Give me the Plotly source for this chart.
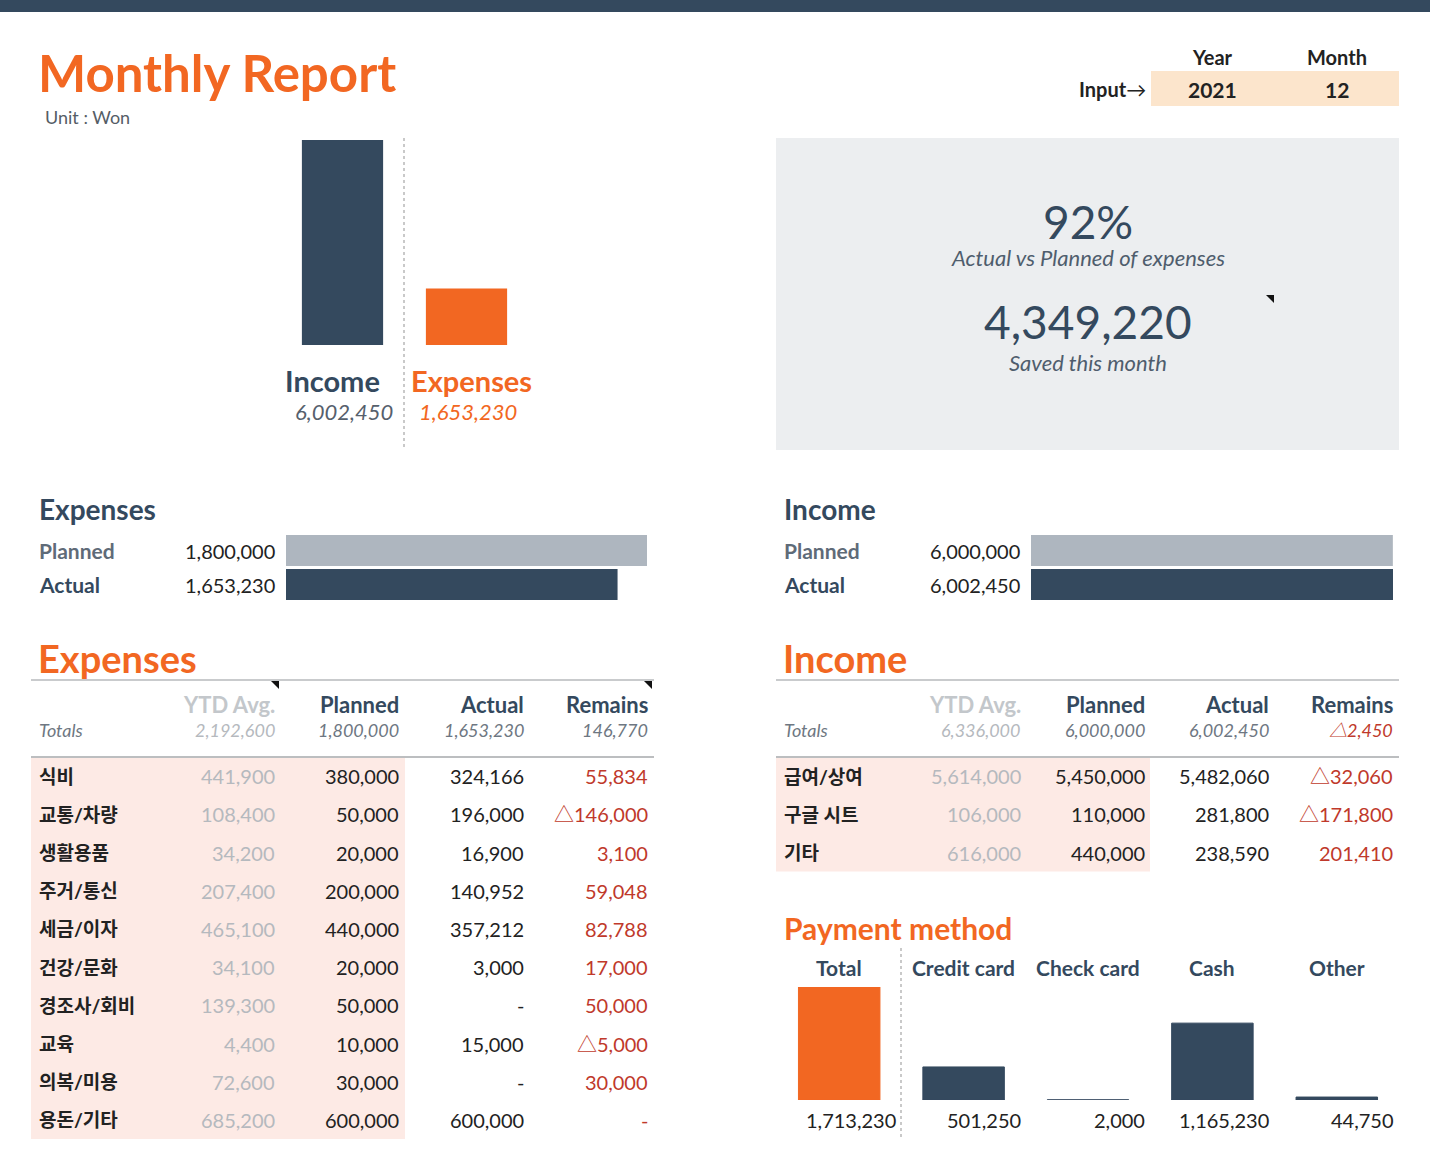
import plotly.graph_objects as go

# ---------------- data ----------------
exp_categories = ["식비", "교통/차량", "생활용품", "주거/통신", "세금/이자",
                  "건강/문화", "경조사/회비", "교육", "의복/미용", "용돈/기타"]
exp_ytd = [441900, 108400, 34200, 207400, 465100, 34100, 139300, 4400, 72600, 685200]
exp_planned = [380000, 50000, 20000, 200000, 440000, 20000, 50000, 10000, 30000, 600000]
exp_actual = [324166, 196000, 16900, 140952, 357212, 3000, 0, 15000, 0, 600000]

inc_categories = ["급여/상여", "구글 시트", "기타"]
inc_ytd = [5614000, 106000, 616000]
inc_planned = [5450000, 110000, 440000]
inc_actual = [5482060, 281800, 238590]

pay_methods = ["Credit card", "Check card", "Cash", "Other"]
pay_values = [501250, 2000, 1165230, 44750]

table_columns = ["YTD Avg.", "Planned", "Actual", "Remains"]
report_year = 2021
report_month = 12

# ---------------- derived ----------------
exp_remains = [p - a for p, a in zip(exp_planned, exp_actual)]
inc_remains = [p - a for p, a in zip(inc_planned, inc_actual)]
exp_tot = [sum(exp_ytd), sum(exp_planned), sum(exp_actual), sum(exp_remains)]
inc_tot = [sum(inc_ytd), sum(inc_planned), sum(inc_actual), sum(inc_remains)]
pay_total = sum(pay_values)

# ---------------- style ----------------
W, H = 1430, 1162
NAVY = "#34495e"
ORANGE = "#f26722"
BARGRAY = "#aeb6bf"
PINK = "#fdeae5"
RED = "#c0392b"
LIGHT = "#b5b9be"
HDRLIGHT = "#c3c7cb"
BOXGRAY = "#eceef0"
PEACH = "#fce5cc"
TXT = "#222222"
SUB = "#6e7782"
FONT = "Lato, 'Noto Sans CJK KR', sans-serif"


def PX(x):
    return x / W


def PY(y):
    return 1 - y / H


def fmt(v):
    return "-" if v == 0 else f"{v:,}"


def fmt_rem(v):
    if v == 0:
        return "-"
    return f"{v:,}" if v > 0 else "△" + f"{-v:,}"


annotations = []
shapes = []


def text(t, x, y, size, color, xanchor="left", xref="paper", yref="paper",
         xshift=0, bold=False, italic=False):
    if bold:
        t = f"<b>{t}</b>"
    if italic:
        t = f"<i>{t}</i>"
    annotations.append(dict(text=t, x=x, y=y, xref=xref, yref=yref, xanchor=xanchor,
                            yanchor="middle", xshift=xshift, showarrow=False, borderpad=0,
                            font=dict(family=FONT, size=size, color=color)))


def rect(x0, y0, x1, y1, color):
    shapes.append(dict(type="rect", xref="paper", yref="paper", x0=PX(x0), x1=PX(x1),
                       y0=PY(y1), y1=PY(y0), fillcolor=color, line=dict(width=0),
                       layer="below"))


def hline(x0, x1, y, color, width):
    shapes.append(dict(type="line", xref="paper", yref="paper", x0=PX(x0), x1=PX(x1),
                       y0=PY(y), y1=PY(y), line=dict(color=color, width=width)))


def vdot(x, y0, y1):
    shapes.append(dict(type="line", xref="paper", yref="paper", x0=PX(x), x1=PX(x),
                       y0=PY(y0), y1=PY(y1), line=dict(color="#b8b8b8", width=1.5, dash="dot")))


def tri(x0, y0, s=8):
    path = (f"M {PX(x0)} {PY(y0)} L {PX(x0 + s)} {PY(y0)} "
            f"L {PX(x0 + s)} {PY(y0 + s)} Z")
    shapes.append(dict(type="path", xref="paper", yref="paper", path=path,
                       fillcolor="#111111", line=dict(width=0)))


fig = go.Figure()
layout = {}

# ---------- header ----------
rect(0, 0, W, 12, NAVY)
text("Monthly Report", PX(37), PY(73), 51, ORANGE, bold=True)
text("Unit : Won", PX(44), PY(117), 18, "#555d66")
rect(1151, 71, 1399, 106, PEACH)
text("Year", PX(1212), PY(57), 20, TXT, xanchor="center", bold=True)
text("Month", PX(1337), PY(57), 20, TXT, xanchor="center", bold=True)
text(str(report_year), PX(1212), PY(89), 21, TXT, xanchor="center", bold=True)
text(str(report_month), PX(1337), PY(89), 21, TXT, xanchor="center", bold=True)
text("<b>Input</b>→", PX(1147), PY(89), 20, TXT, xanchor="right")

# ---------- top income vs expenses bars ----------
top_cats = ["Income", "Expenses"]
top_vals = [inc_tot[2], exp_tot[2]]
fig.add_trace(go.Bar(x=top_cats, y=top_vals, marker=dict(color=[NAVY, ORANGE], line=dict(width=0)),
                     width=0.655, xaxis="x", yaxis="y", hoverinfo="skip"))
layout["xaxis"] = dict(domain=[PX(280.5), PX(528.5)], type="category", range=[-0.5, 1.5],
                       visible=False, anchor="y")
layout["yaxis"] = dict(domain=[PY(345), PY(140)], range=[0, max(top_vals)], visible=False, anchor="x")
vdot(404, 138, 450)
text("Income", "Income", PY(381), 29, NAVY, xanchor="right", xref="x", xshift=38, bold=True)
text(f"{top_vals[0]:,}", "Income", PY(411), 22, "#56606c", xanchor="right", xref="x", xshift=51, italic=True)
text("Expenses", "Expenses", PY(381), 29, ORANGE, xanchor="left", xref="x", xshift=-57, bold=True)
text(f"{top_vals[1]:,}", "Expenses", PY(411), 22, ORANGE, xanchor="left", xref="x", xshift=-49, italic=True)

# ---------- summary box ----------
rect(776, 138, 1399, 450, BOXGRAY)
pct = round(exp_tot[2] / exp_tot[1] * 100)
text(f"{pct}%", PX(1088), PY(221), 46, NAVY, xanchor="center")
text("Actual vs Planned of expenses", PX(1088), PY(257), 22, "#4f5d6d", xanchor="center", italic=True)
text(f"{inc_tot[2] - exp_tot[2]:,}", PX(1088), PY(321), 46, NAVY, xanchor="center")
text("Saved this month", PX(1088), PY(362), 22, "#4f5d6d", xanchor="center", italic=True)
tri(1266, 295)

# ---------- planned vs actual horizontal bars ----------
def hbar(title, tx, valx, x0, x1, planned, actual, xa, ya):
    vals = [planned, actual]
    cats = ["Planned", "Actual"]
    fig.add_trace(go.Bar(x=vals, y=cats, orientation="h",
                         marker=dict(color=[BARGRAY, NAVY], line=dict(width=0)),
                         width=0.91, xaxis=xa, yaxis=ya, hoverinfo="skip"))
    layout["xaxis" + xa[1:]] = dict(domain=[PX(x0), PX(x1)], range=[0, max(vals)],
                                    visible=False, anchor=ya)
    layout["yaxis" + ya[1:]] = dict(domain=[PY(601.5), PY(533.5)], type="category",
                                    range=[1.5, -0.5], visible=False, anchor=xa)
    text(title, PX(tx), PY(509), 28, NAVY, bold=True)
    text("Planned", PX(tx), "Planned", 21, "#5f6b78", yref=ya, bold=True)
    text("Actual", PX(tx), "Actual", 21, NAVY, yref=ya, bold=True)
    text(f"{planned:,}", PX(valx), "Planned", 20, TXT, xanchor="right", yref=ya)
    text(f"{actual:,}", PX(valx), "Actual", 20, TXT, xanchor="right", yref=ya)


hbar("Expenses", 38, 276, 286, 647, exp_tot[1], exp_tot[2], "x2", "y2")
hbar("Income", 783, 1021, 1031, 1393, inc_tot[1], inc_tot[2], "x3", "y3")

# ---------- tables ----------
def table(title, xl, xr, first, last, pink_r, label_x, cats, ytd, planned, actual, remains,
          totals, xa, ya, tris=()):
    n = len(cats)
    sp = (last - first) / 3
    y_top = 757
    row_h = 38.2
    y_bot = y_top + n * row_h
    layout["xaxis" + xa[1:]] = dict(domain=[PX(xl), PX(xr)],
                                    range=[-(first - xl) / sp, 3 + (xr - last) / sp],
                                    visible=False, anchor=ya)
    layout["yaxis" + ya[1:]] = dict(domain=[PY(y_bot), PY(y_top)], range=[n - 0.5, -0.5],
                                    visible=False, anchor=xa)
    # invisible trace so the subplot exists
    fig.add_trace(go.Scatter(x=[0, 3], y=[0, n - 1], mode="markers", marker=dict(opacity=0),
                             xaxis=xa, yaxis=ya, hoverinfo="skip"))
    text(title, PX(label_x - 1), PY(658), 38, ORANGE, bold=True)
    hline(xl, xr, 680, "#c9cbcd", 2)
    hline(xl, xr, 757, "#bcbec0", 2)
    rect(xl, 758, pink_r, y_bot, PINK)
    for t in tris:
        tri(t, 681)
    # header
    for j, c in enumerate(table_columns):
        text(c, j, PY(704), 22, HDRLIGHT if j == 0 else NAVY, xanchor="right", xref=xa, bold=True)
    # totals
    text("Totals", PX(label_x), PY(730), 18, SUB, italic=True)
    tot_cols = [LIGHT, SUB, SUB, RED if totals[3] < 0 else SUB]
    tot_txt = [fmt(totals[0]), fmt(totals[1]), fmt(totals[2]), fmt_rem(totals[3])]
    for j in range(4):
        text(tot_txt[j], j, PY(730), 18, tot_cols[j], xanchor="right", xref=xa, italic=True)
    # rows
    for i, c in enumerate(cats):
        text(c, PX(label_x), i, 19, TXT, yref=ya, bold=True)
        text(fmt(ytd[i]), 0, i, 20, LIGHT, xanchor="right", xref=xa, yref=ya)
        text(fmt(planned[i]), 1, i, 20, TXT, xanchor="right", xref=xa, yref=ya)
        text(fmt(actual[i]), 2, i, 20, TXT, xanchor="right", xref=xa, yref=ya)
        text(fmt_rem(remains[i]), 3, i, 20, RED, xanchor="right", xref=xa, yref=ya)


table("Expenses", 31, 654, 276, 649, 405, 38, exp_categories, exp_ytd, exp_planned,
      exp_actual, exp_remains, exp_tot, "x5", "y5", tris=(271, 644))
table("Income", 776, 1399, 1022, 1394, 1150, 783, inc_categories, inc_ytd, inc_planned,
      inc_actual, inc_remains, inc_tot, "x6", "y6")

# ---------- payment method ----------
pay_cats = ["Total"] + pay_methods
pay_vals = [pay_total] + pay_values
pay_colors = [ORANGE] + [NAVY] * len(pay_methods)
fig.add_trace(go.Bar(x=pay_cats, y=pay_vals,
                     marker=dict(color=pay_colors, line=dict(color=pay_colors, width=1)),
                     width=0.655, xaxis="x4", yaxis="y4", hoverinfo="skip"))
layout["xaxis4"] = dict(domain=[PX(777), PX(1399)], type="category", range=[-0.5, 4.5],
                        visible=False, anchor="y4")
layout["yaxis4"] = dict(domain=[PY(1100), PY(987)], range=[0, pay_total], visible=False, anchor="x4")
text("Payment method", PX(783), PY(928), 30, ORANGE, bold=True)
vdot(901, 948, 1138)
for c, v in zip(pay_cats, pay_vals):
    text(c, c, PY(967), 21, NAVY, xanchor="center", xref="x4", bold=True)
    text(f"{v:,}", c, PY(1120), 20, TXT, xanchor="right", xref="x4", xshift=58)

fig.update_layout(
    width=W, height=H, margin=dict(l=0, r=0, t=0, b=0),
    paper_bgcolor="white", plot_bgcolor="rgba(0,0,0,0)",
    showlegend=False, annotations=annotations, shapes=shapes,
    font=dict(family=FONT), **layout,
)
fig.write_html("out.html", config={"displayModeBar": False},
               post_script="document.body.style.margin='0px';document.body.style.overflow='hidden';")
